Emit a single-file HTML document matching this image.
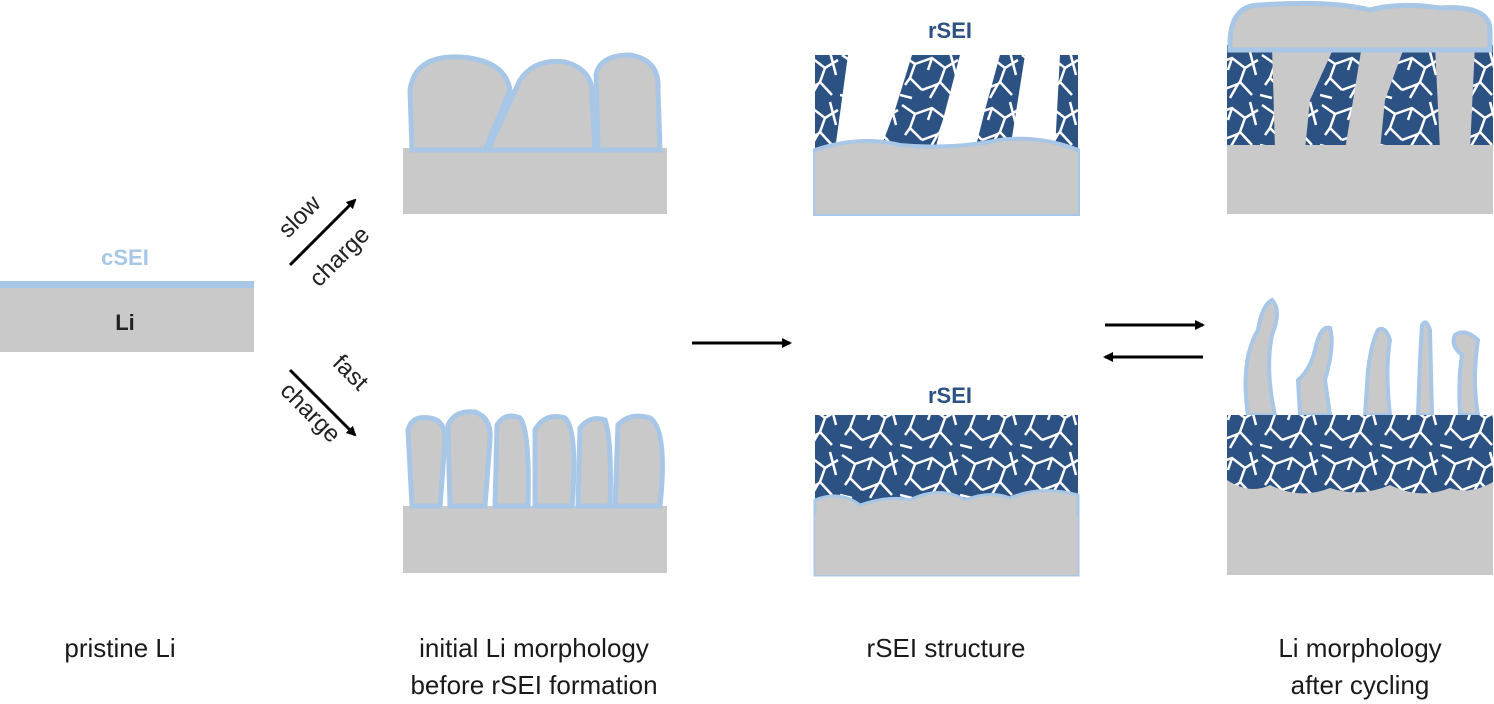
<!DOCTYPE html>
<html><head><meta charset="utf-8"><style>
html,body{margin:0;padding:0;background:#fff;}
svg{display:block;}
text{font-family:"Liberation Sans",sans-serif;}
</style></head><body>
<svg width="1494" height="704" viewBox="0 0 1494 704" xmlns="http://www.w3.org/2000/svg">
<defs>
<marker id="ah" markerWidth="10" markerHeight="10" refX="8" refY="5" orient="auto" markerUnits="userSpaceOnUse">
<path d="M0,0 L10,5 L0,10 z" fill="#000"/></marker>
<pattern id="crk" width="60" height="50" patternUnits="userSpaceOnUse">
<rect width="60" height="50" fill="#2c5183"/>
<path d="M2,5 L15,14 L10,28 L22,40 M15,14 L32,8 L45,18 L58,10 M45,18 L40,32 L52,45 M22,40 L38,34 L40,32 M5,35 L10,28 M30,48 L38,34 M28,20 L32,8 M50,2 L56,25 M0,45 L12,48" stroke="#fff" stroke-width="2.5" fill="none"/>
</pattern>
</defs>

<!-- pristine -->
<rect x="0" y="287" width="254" height="65" fill="#c9c9c9"/>
<rect x="0" y="281" width="254" height="7" fill="#a8c6e6"/>
<text x="125" y="265" font-size="22" font-weight="bold" fill="#a8c6e6" text-anchor="middle">cSEI</text>
<text x="125" y="330" font-size="22" font-weight="bold" fill="#222" text-anchor="middle">Li</text>

<!-- slow / fast arrows -->
<line x1="290" y1="265" x2="355" y2="200" stroke="#000" stroke-width="3" marker-end="url(#ah)"/>
<text transform="translate(305,222) rotate(-45)" font-size="24" text-anchor="middle" fill="#222">slow</text>
<text transform="translate(345,262) rotate(-45)" font-size="24" text-anchor="middle" fill="#222">charge</text>
<line x1="290" y1="370" x2="355" y2="435" stroke="#000" stroke-width="3" marker-end="url(#ah)"/>
<text transform="translate(345,378) rotate(45)" font-size="24" text-anchor="middle" fill="#222">fast</text>
<text transform="translate(305,418) rotate(45)" font-size="24" text-anchor="middle" fill="#222">charge</text>

<!-- top middle panel -->
<rect x="403" y="148" width="264" height="66" fill="#c9c9c9"/>
<g fill="#c9c9c9" stroke="#a8c6e6" stroke-width="5">
<path d="M412,150 L410,90 Q415,55 460,57 Q505,60 510,90 L485,150 z"/>
<path d="M488,150 L520,80 Q535,58 565,62 Q595,70 592,100 L595,150 z"/>
<path d="M598,150 L596,75 Q600,55 630,55 Q660,60 658,90 L660,150 z"/>
</g>

<!-- bottom middle panel -->
<rect x="403" y="506" width="264" height="67" fill="#c9c9c9"/>
<g fill="#c9c9c9" stroke="#a8c6e6" stroke-width="5">
<path d="M412,506 L408,430 Q412,415 430,418 Q445,420 445,440 L440,506 z"/>
<path d="M450,506 L448,425 Q455,410 475,412 Q492,418 490,440 L485,506 z"/>
<path d="M495,506 L497,425 Q505,412 520,418 Q530,430 528,506 z"/>
<path d="M535,506 L535,430 Q545,412 565,418 Q578,430 572,506 z"/>
<path d="M578,506 L580,428 Q590,415 605,420 Q612,440 610,506 z"/>
<path d="M615,506 L618,425 Q630,412 650,418 Q668,430 660,506 z"/>
</g>

<line x1="692" y1="343" x2="790" y2="343" stroke="#000" stroke-width="3" marker-end="url(#ah)"/>

<!-- rSEI top -->
<rect x="815" y="55" width="263" height="95" fill="url(#crk)"/>
<g fill="#fff">
<path d="M848,55 L912,55 L895,110 L880,150 L835,150 z"/>
<path d="M960,55 L1000,55 L985,110 L975,150 L935,150 z"/>
<path d="M1025,55 L1060,55 L1055,150 L1010,150 z"/>
</g>
<path d="M815,150 Q860,135 900,145 Q950,150 1000,140 Q1040,135 1078,150 L1078,214 L815,214 z" fill="#c9c9c9" stroke="#a8c6e6" stroke-width="4"/>
<rect x="815" y="152" width="263" height="62" fill="#c9c9c9"/>
<text x="950" y="38" font-size="22" font-weight="bold" fill="#2c5183" text-anchor="middle">rSEI</text>

<!-- rSEI bottom -->
<rect x="815" y="415" width="263" height="100" fill="url(#crk)"/>
<path d="M815,500 Q840,490 860,505 Q890,495 910,500 Q940,485 965,500 Q990,490 1010,498 Q1040,485 1078,495 L1078,575 L815,575 z" fill="#c9c9c9" stroke="#a8c6e6" stroke-width="3"/>
<rect x="815" y="515" width="263" height="60" fill="#c9c9c9"/>
<text x="950" y="403" font-size="22" font-weight="bold" fill="#2c5183" text-anchor="middle">rSEI</text>

<!-- double arrow -->
<line x1="1105" y1="325" x2="1203" y2="325" stroke="#000" stroke-width="3" marker-end="url(#ah)"/>
<line x1="1203" y1="357" x2="1105" y2="357" stroke="#000" stroke-width="3" marker-end="url(#ah)"/>

<!-- right top -->
<rect x="1227" y="45" width="266" height="105" fill="url(#crk)"/>
<g fill="#c9c9c9">
<path d="M1272,45 L1335,45 L1310,100 L1305,150 L1275,150 z"/>
<path d="M1362,45 L1405,45 L1385,100 L1380,150 L1345,150 z"/>
<path d="M1435,45 L1475,45 L1470,150 L1440,150 z"/>
</g>
<rect x="1227" y="145" width="266" height="69" fill="#c9c9c9"/>
<path d="M1230,50 Q1228,5 1260,5 Q1330,0 1370,10 Q1400,2 1440,8 Q1490,5 1490,30 L1490,50 z" fill="#c9c9c9" stroke="#a8c6e6" stroke-width="5"/>

<!-- right bottom -->
<g fill="#c9c9c9" stroke="#a8c6e6" stroke-width="4">
<path d="M1248,415 Q1240,360 1258,330 Q1262,305 1272,300 Q1282,310 1272,335 Q1265,370 1275,415 z"/>
<path d="M1300,415 L1298,380 Q1310,370 1315,350 Q1320,325 1330,328 Q1335,345 1325,380 L1330,415 z"/>
<path d="M1365,415 L1368,370 Q1372,340 1378,330 Q1385,325 1390,340 Q1385,370 1390,415 z"/>
<path d="M1418,415 L1420,360 L1422,325 Q1426,318 1430,330 L1432,415 z"/>
<path d="M1460,415 Q1458,380 1462,355 Q1450,345 1455,335 Q1465,328 1478,340 Q1472,380 1478,415 z"/>
</g>
<rect x="1227" y="415" width="266" height="90" fill="url(#crk)"/>
<path d="M1227,480 Q1250,495 1270,485 Q1300,500 1330,488 Q1360,498 1390,485 Q1420,500 1450,488 Q1470,495 1493,482 L1493,575 L1227,575 z" fill="#c9c9c9"/>
<rect x="1227" y="505" width="266" height="70" fill="#c9c9c9"/>

<!-- captions -->
<g font-size="26" fill="#1a1a1a" text-anchor="middle">
<text x="120" y="657">pristine Li</text>
<text x="534" y="657">initial Li morphology</text>
<text x="534" y="694">before rSEI formation</text>
<text x="946" y="657">rSEI structure</text>
<text x="1360" y="657">Li morphology</text>
<text x="1360" y="694">after cycling</text>
</g>
</svg>
</body></html>
